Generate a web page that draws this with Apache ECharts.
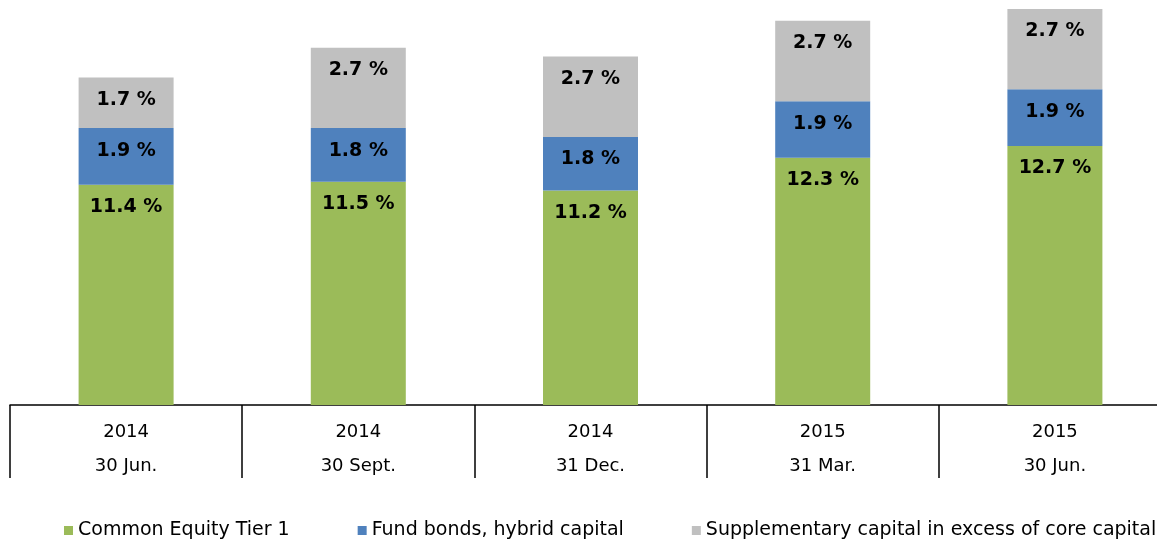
<!DOCTYPE html>
<html>
<head>
<meta charset="utf-8">
<script src="https://cdn.jsdelivr.net/npm/echarts@6/dist/echarts.min.js"></script>
<style>
    html, body { margin: 0; padding: 0; background: #fff; overflow: hidden; }
    #chart { width: 1171px; height: 544px; }
</style>
</head>
<body>
<div id="chart"></div>
<script>
var years = ['2014', '2014', '2014', '2015', '2015'];
var dates = ['30 Jun.', '30 Sept.', '31 Dec.', '31 Mar.', '30 Jun.'];
var cet1 = [11.4, 11.5, 11.2, 12.3, 12.7];
var hybrid = [1.9, 1.8, 1.8, 1.9, 1.9];
var supplementary = [1.7, 2.7, 2.7, 2.7, 2.7];

var categories = years.map(function(y, i) { return y + '\n' + dates[i]; });

function makeSeries(name, data, color) {
    return {
        name: name,
        type: 'bar',
        stack: 'total',
        data: data,
        barWidth: 95,
        itemStyle: { color: color },
        label: {
            show: true,
            position: 'insideTop',
            distance: 13,
            color: '#000',
            fontFamily: 'DejaVu Sans',
            fontWeight: 'bold',
            fontSize: 19,
            formatter: function(p) { return p.value.toFixed(1) + ' %'; }
        }
    };
}

var myChart = echarts.init(document.getElementById('chart'));
myChart.setOption({
    animation: false,
    grid: { left: 10, top: 3, right: 0, height: 402 },
    legend: {
        left: 64,
        top: 521,
        width: 1100,
        padding: 0,
        itemWidth: 9,
        itemHeight: 9,
        itemGap: 68,
        icon: 'rect',
        textStyle: { fontFamily: 'DejaVu Sans', fontSize: 19, color: '#000' },
        data: ['Common Equity Tier 1', 'Fund bonds, hybrid capital', 'Supplementary capital in excess of core capital']
    },
    xAxis: {
        type: 'category',
        data: categories,
        axisLine: { lineStyle: { color: '#000', width: 1.5 } },
        axisTick: { show: true, interval: 0, length: 73, lineStyle: { color: '#000', width: 1.5 } },
        axisLabel: {
            interval: 0,
            margin: 10,
            lineHeight: 34,
            color: '#000',
            fontFamily: 'DejaVu Sans',
            fontSize: 18
        }
    },
    yAxis: {
        type: 'value',
        min: 4,
        max: 17.5,
        show: false,
        splitLine: { show: false }
    },
    series: [
        makeSeries('Common Equity Tier 1', cet1, '#9BBB59'),
        makeSeries('Fund bonds, hybrid capital', hybrid, '#4F81BD'),
        makeSeries('Supplementary capital in excess of core capital', supplementary, '#C0C0C0')
    ]
});
</script>
</body>
</html>
